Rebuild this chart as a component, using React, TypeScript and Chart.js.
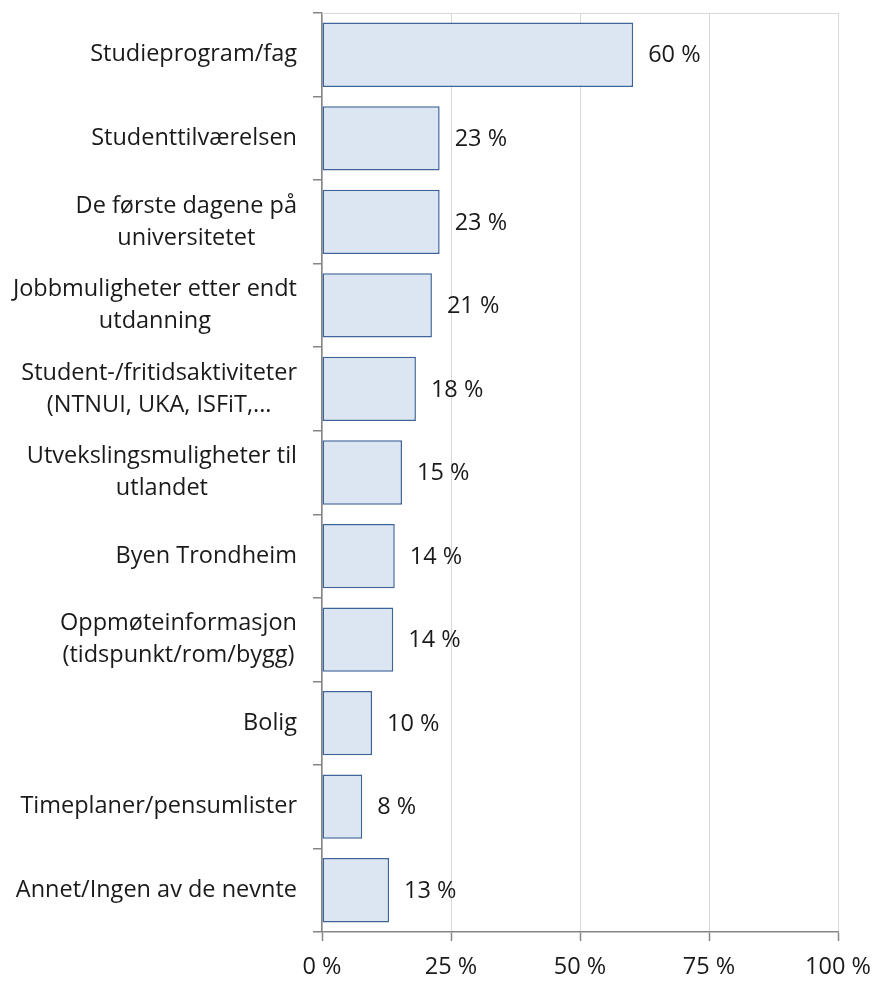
import React, { useEffect, useRef } from "react";
import { Chart, registerables } from "chart.js";

Chart.register(...registerables);

const categories: string[][] = [
  ["Studieprogram/fag"],
  ["Studenttilværelsen"],
  ["De første dagene på", "universitetet"],
  ["Jobbmuligheter etter endt", "utdanning"],
  ["Student-/fritidsaktiviteter", "(NTNUI, UKA, ISFiT,..."],
  ["Utvekslingsmuligheter til", "utlandet"],
  ["Byen Trondheim"],
  ["Oppmøteinformasjon", "(tidspunkt/rom/bygg)"],
  ["Bolig"],
  ["Timeplaner/pensumlister"],
  ["Annet/Ingen av de nevnte"],
];
const values: number[] = [60, 23, 23, 21, 18, 15, 14, 14, 10, 8, 13];
const barEnds: number[] = [60.3, 22.8, 22.8, 21.3, 18.2, 15.5, 14.1, 13.8, 9.7, 7.8, 13.0];
const xTicks: number[] = [0, 25, 50, 75, 100];

const FONT = "'Open Sans', sans-serif";
const FONT_SIZE = 23.5;
const TEXT_COLOR = "#1a1a1a";

const labelPlugin = {
  id: "customLabels",
  afterDraw(chart: any) {
    const ctx = chart.ctx;
    const yScale = chart.scales.y;
    const xScale = chart.scales.x;
    const area = chart.chartArea;
    ctx.save();
    ctx.strokeStyle = "#d9d9d9";
    ctx.lineWidth = 1;
    ctx.beginPath();
    ctx.moveTo(area.left, area.top + 0.5);
    ctx.lineTo(area.right, area.top + 0.5);
    ctx.stroke();

    ctx.font = `${FONT_SIZE}px ${FONT}`;
    ctx.fillStyle = TEXT_COLOR;
    ctx.textBaseline = "middle";
    const rightEdge = area.left - 25;
    const lineH = 32;
    categories.forEach((lines, i) => {
      const yc = yScale.getPixelForValue(i);
      const w = Math.max(...lines.map((l) => ctx.measureText(l).width));
      const cx = rightEdge - w / 2;
      ctx.textAlign = "center";
      lines.forEach((l, k) => {
        const y = yc + (k - (lines.length - 1) / 2) * lineH;
        ctx.fillText(l, cx, y);
      });
      ctx.textAlign = "left";
      const xEnd = xScale.getPixelForValue(barEnds[i]);
      ctx.fillText(`${values[i]} %`, xEnd + 15, yc + 1);
    });
    ctx.restore();
  },
};

export default function App() {
  const ref = useRef<HTMLCanvasElement | null>(null);
  useEffect(() => {
    document.body.style.margin = "0";
    const canvas = ref.current!;
    const chart = new Chart(canvas, {
      type: "bar",
      data: {
        labels: categories.map((c) => c.join(" ")),
        datasets: [
          {
            data: barEnds,
            backgroundColor: "#dce6f2",
            borderColor: "#3d6398",
            borderWidth: 1.5,
            borderSkipped: false,
            barPercentage: 0.77,
            categoryPercentage: 1,
          },
        ],
      },
      options: {
        indexAxis: "y",
        animation: false,
        responsive: false,
        maintainAspectRatio: false,
        layout: { padding: { top: 13, right: 34, left: 0, bottom: 0 } },
        plugins: {
          legend: { display: false },
          tooltip: { enabled: false },
        },
        scales: {
          x: {
            min: 0,
            max: 100,
            afterBuildTicks: (scale: any) => {
              scale.ticks = xTicks.map((v) => ({ value: v }));
            },
            afterFit: (scale: any) => {
              scale.height = 49;
              scale.paddingLeft = 0;
              scale.paddingRight = 0;
            },
            ticks: {
              font: { family: FONT, size: FONT_SIZE },
              color: TEXT_COLOR,
              padding: 12,
              callback: (v: any) => `${v} %`,
              maxRotation: 0,
            },
            grid: {
              color: "#d9d9d9",
              lineWidth: 1,
              tickLength: 9,
              tickColor: "#868686",
              tickWidth: 1.5,
            },
            border: { color: "#868686", width: 1.5 },
          },
          y: {
            afterFit: (scale: any) => {
              scale.width = 322;
            },
            ticks: { display: false },
            grid: {
              offset: true,
              drawOnChartArea: false,
              tickLength: 9,
              color: "#868686",
              lineWidth: 1.5,
            },
            border: { color: "#868686", width: 1.5 },
          },
        },
      },
      plugins: [labelPlugin],
    });
    return () => chart.destroy();
  }, []);
  return <canvas ref={ref} width={872} height={981} style={{ display: "block" }} />;
}
